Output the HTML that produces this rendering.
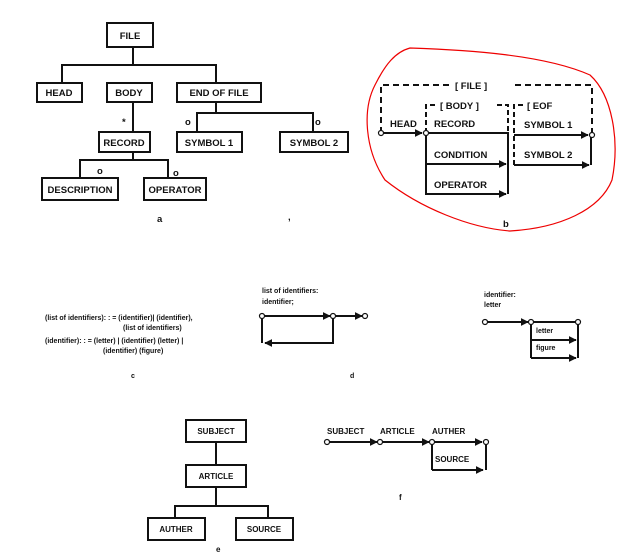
<!DOCTYPE html>
<html><head><meta charset="utf-8"><style>
html,body{margin:0;padding:0;background:#fff;}
svg{display:block;}
text{font-family:"Liberation Sans",sans-serif;font-weight:bold;fill:#111;}
</style></head><body>
<svg width="628" height="559" viewBox="0 0 628 559" xmlns="http://www.w3.org/2000/svg">
<defs>
<marker id="ar" viewBox="0 0 10 10" refX="9" refY="5" markerWidth="4" markerHeight="4" orient="auto"><path d="M0,0 L10,5 L0,10 z" fill="#111"/></marker>
</defs>
<g stroke="#111" stroke-width="2" fill="none">
<rect x="107" y="23" width="46" height="24"/>
<rect x="37" y="83" width="45" height="19"/>
<rect x="107" y="83" width="45" height="19"/>
<rect x="177" y="83" width="84" height="19"/>
<rect x="99" y="132" width="51" height="20"/>
<rect x="177" y="132" width="65" height="20"/>
<rect x="280" y="132" width="68" height="20"/>
<rect x="42" y="178" width="76" height="22"/>
<rect x="144" y="178" width="62" height="22"/>
<path d="M133 47V65M62 83V65H216V83M133 102V132M216 102V113M197 132V113H313V132M133 152V160M80 178V160H168V178"/>
<rect x="186" y="420" width="60" height="22"/>
<rect x="186" y="465" width="60" height="22"/>
<rect x="148" y="518" width="57" height="22"/>
<rect x="236" y="518" width="57" height="22"/>
<path d="M216 442V465M216 487V506M175 518V506H268V518"/>
</g>
<g font-size="9.5">
<text x="130" y="39" text-anchor="middle">FILE</text>
<text x="59" y="96" text-anchor="middle">HEAD</text>
<text x="129" y="96" text-anchor="middle">BODY</text>
<text x="219" y="96" text-anchor="middle">END OF FILE</text>
<text x="124" y="146" text-anchor="middle">RECORD</text>
<text x="209" y="146" text-anchor="middle">SYMBOL 1</text>
<text x="314" y="146" text-anchor="middle">SYMBOL 2</text>
<text x="80" y="193" text-anchor="middle">DESCRIPTION</text>
<text x="175" y="193" text-anchor="middle">OPERATOR</text>
<text x="122" y="125">*</text>
<text x="185" y="125">o</text>
<text x="315" y="125">o</text>
<text x="97" y="174">o</text>
<text x="173" y="176">o</text>
<text x="157" y="222">a</text>
<text x="288" y="220">,</text>
</g>
<path d="M410 48 C470 50 545 55 590 75 C612 95 620 140 612 180 C600 210 560 228 510 231 C470 228 420 208 385 180 C365 150 362 110 375 85 C385 65 395 52 410 48 Z" fill="none" stroke="#e00" stroke-width="1.2"/>
<g stroke="#111" stroke-width="2" fill="none">
<path d="M381 133V85H450M515 85H592V133" stroke-dasharray="6,4"/>
<path d="M426 133V105H437M497 105H508V133" stroke-dasharray="5,3"/>
<path d="M514 165V105H524" stroke-dasharray="5,3"/>
<line x1="383" y1="133" x2="422" y2="133" marker-end="url(#ar)"/>
<path d="M429 133H508V194M426 135V194H504"/>
<line x1="426" y1="164" x2="506" y2="164" marker-end="url(#ar)"/>
<line x1="426" y1="194" x2="506" y2="194" marker-end="url(#ar)"/>
<line x1="514" y1="135" x2="588" y2="135" marker-end="url(#ar)"/>
<line x1="514" y1="165" x2="589" y2="165" marker-end="url(#ar)"/>
<path d="M591 137V165"/>
</g>
<g fill="#fff" stroke="#111" stroke-width="1.2">
<circle cx="381" cy="133" r="2.5"/><circle cx="426" cy="133" r="2.5"/><circle cx="592" cy="135" r="2.5"/>
</g>
<g font-size="9.5">
<text x="455" y="89">[ FILE ]</text>
<text x="440" y="109">[ BODY ]</text>
<text x="527" y="109">[ EOF</text>
<text x="390" y="127">HEAD</text>
<text x="434" y="127">RECORD</text>
<text x="434" y="158">CONDITION</text>
<text x="434" y="188">OPERATOR</text>
<text x="524" y="128">SYMBOL 1</text>
<text x="524" y="158">SYMBOL 2</text>
<text x="503" y="227">b</text>
</g>
<g font-size="7">
<text x="45" y="320">(list of identifiers): : = (identifier)| (identifier),</text>
<text x="123" y="330">(list of identifiers)</text>
<text x="45" y="343">(identifier): : = (letter) | (identifier) (letter) |</text>
<text x="103" y="353">(identifier) (figure)</text>
<text x="131" y="378">c</text>
<text x="262" y="293">list of identifiers:</text>
<text x="262" y="304">identifier;</text>
<text x="350" y="378">d</text>
<text x="484" y="297">identifier:</text>
<text x="484" y="307">letter</text>
<text x="536" y="333">letter</text>
<text x="536" y="350">figure</text>
</g>
<g stroke="#111" stroke-width="2" fill="none">
<line x1="262" y1="316" x2="330" y2="316" marker-end="url(#ar)"/>
<line x1="335" y1="316" x2="362" y2="316" marker-end="url(#ar)"/>
<path d="M262 316V343M333 316V343H266"/>
<line x1="333" y1="343" x2="265" y2="343" marker-end="url(#ar)"/>
<line x1="485" y1="322" x2="528" y2="322" marker-end="url(#ar)"/>
<path d="M531 322H578V358M531 322V358"/>
<line x1="531" y1="340" x2="576" y2="340" marker-end="url(#ar)"/>
<line x1="531" y1="358" x2="576" y2="358" marker-end="url(#ar)"/>
<line x1="327" y1="442" x2="377" y2="442" marker-end="url(#ar)"/>
<line x1="380" y1="442" x2="429" y2="442" marker-end="url(#ar)"/>
<line x1="432" y1="442" x2="482" y2="442" marker-end="url(#ar)"/>
<path d="M432 442V470M486 442V470"/>
<line x1="432" y1="470" x2="483" y2="470" marker-end="url(#ar)"/>
</g>
<g fill="#fff" stroke="#111" stroke-width="1.2">
<circle cx="262" cy="316" r="2.5"/><circle cx="333" cy="316" r="2.5"/><circle cx="365" cy="316" r="2.5"/>
<circle cx="485" cy="322" r="2.5"/><circle cx="531" cy="322" r="2.5"/><circle cx="578" cy="322" r="2.5"/>
<circle cx="327" cy="442" r="2.5"/><circle cx="380" cy="442" r="2.5"/><circle cx="432" cy="442" r="2.5"/><circle cx="486" cy="442" r="2.5"/>
</g>
<g font-size="8">
<text x="216" y="434" text-anchor="middle">SUBJECT</text>
<text x="216" y="479" text-anchor="middle">ARTICLE</text>
<text x="176" y="532" text-anchor="middle">AUTHER</text>
<text x="264" y="532" text-anchor="middle">SOURCE</text>
<text x="216" y="552">e</text>
<text x="327" y="434">SUBJECT</text>
<text x="380" y="434">ARTICLE</text>
<text x="432" y="434">AUTHER</text>
<text x="435" y="462">SOURCE</text>
<text x="399" y="500">f</text>
</g>
</svg>
</body></html>
